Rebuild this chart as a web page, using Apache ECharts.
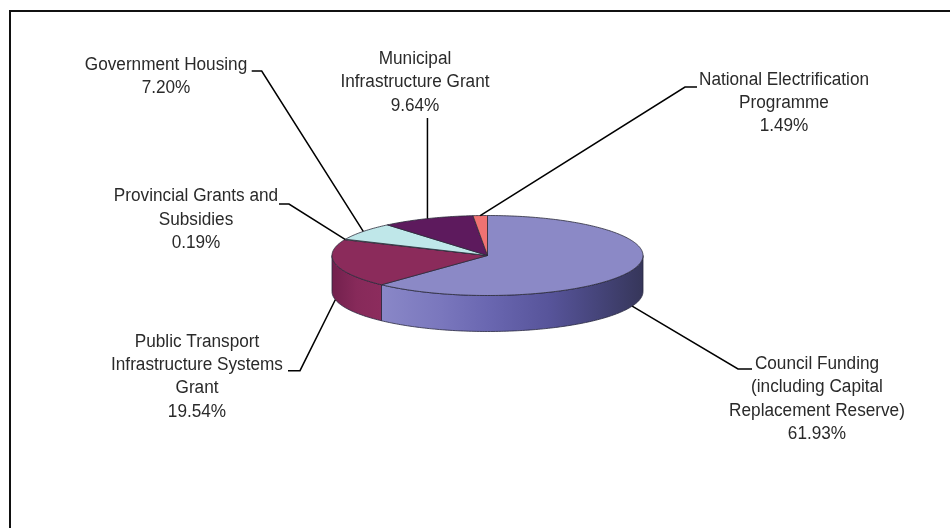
<!DOCTYPE html>
<html><head><meta charset="utf-8">
<script src="https://cdn.jsdelivr.net/npm/echarts@6/dist/echarts.min.js"></script>
<style>html,body{margin:0;padding:0;background:#fff}#c{width:950px;height:528px}</style>
</head><body><div id="c"></div>
<script>
// ---- data ----
const categories = [
  'Council Funding\n(including Capital\nReplacement Reserve)',
  'Public Transport\nInfrastructure Systems\nGrant',
  'Provincial Grants and\nSubsidies',
  'Government Housing',
  'Municipal\nInfrastructure Grant',
  'National Electrification\nProgramme'
];
const values = [61.93, 19.54, 0.19, 7.20, 9.64, 1.49];

// ---- styles / layout ----
const topColors = ['#8b89c6', '#8b2b5b', '#ffffcc', '#bfe7e9', '#5d1a5d', '#f07272'];
const sideStops = [
  [[0,'#8e8ccc'],[0.15,'#8a88c8'],[0.35,'#7a77bd'],[0.5,'#6a67b1'],[0.7,'#57549a'],[0.85,'#46457b'],[1,'#36365a']],
  [[0,'#72204d'],[0.08,'#872a5a'],[0.16,'#8c2c5d'],[1,'#6a1f46']],
  [[0,'#cccca3'],[1,'#e6e6b8']],
  [[0,'#99b9ba'],[1,'#abcfd1']],
  [[0,'#4a154a'],[1,'#531753']],
  [[0,'#c05b5b'],[1,'#d86666']]
];
const PIE = {cx: 487.5, cy: 255.5, rx: 155.5, ry: 40, depth: 36};
const FONT = '17.2px "Liberation Sans", Arial, sans-serif';
const SY = 1.07;
const LH = 23.3 / SY;
const labelLayout = [
  {x: 817, top: 352.4, lead: [[752, 369], [738, 369]]},
  {x: 197, top: 330, lead: [[288, 370.7], [300, 370.7]]},
  {x: 196, top: 184.5, lead: [[279, 204], [289, 204]]},
  {x: 166, top: 53.3, lead: [[251.7, 71], [261.7, 71]]},
  {x: 415, top: 47.3, lead: [[null, 118]]},
  {x: 784, top: 68, lead: [[697, 87], [685, 87]]}
];

const total = values.reduce((a, b) => a + b, 0);
const starts = [];
let acc = 0;
values.forEach(v => { starts.push(acc / total * 360); acc += v; });

function pt(deg, dy) {
  const r = deg * Math.PI / 180;
  return [PIE.cx + PIE.rx * Math.sin(r), PIE.cy - PIE.ry * Math.cos(r) + (dy || 0)];
}

function renderItem(params, api) {
  const i = params.dataIndex;
  const v = api.value(0);
  const a = starts[i];
  const b = a + v / total * 360;
  const children = [];
  const s = Math.max(a, 90), e = Math.min(b, 270);
  if (s < e) {
    const pts = [];
    for (let t = s; t <= e; t += 1) pts.push(pt(t));
    pts.push(pt(e));
    for (let t = e; t >= s; t -= 1) pts.push(pt(t, PIE.depth));
    pts.push(pt(s, PIE.depth));
    children.push({
      type: 'polygon', z2: 1,
      shape: {points: pts},
      style: {
        fill: new echarts.graphic.LinearGradient(PIE.cx - PIE.rx, 0, PIE.cx + PIE.rx, 0,
          sideStops[i].map(c => ({offset: c[0], color: c[1]})), true),
        stroke: '#2a2a40', lineWidth: 0.8
      }
    });
  }
  const tp = [[PIE.cx, PIE.cy]];
  const step = Math.max(0.1, Math.min(1, (b - a) / 4));
  for (let t = a; t < b; t += step) tp.push(pt(t));
  tp.push(pt(b));
  children.push({
    type: 'polygon', z2: 2,
    shape: {points: tp},
    style: {fill: topColors[i], stroke: '#2b2b3a', lineWidth: 0.8}
  });
  const mid = (a + b) / 2;
  const front = Math.cos(mid * Math.PI / 180) < 0;
  const end = pt(mid, front ? PIE.depth : 0);
  const L = labelLayout[i];
  const lp = L.lead.map(p => [p[0] === null ? end[0] : p[0], p[1]]);
  lp.push(end);
  children.push({
    type: 'polyline', z2: 3,
    shape: {points: lp},
    style: {stroke: '#000', lineWidth: 1.5, fill: null}
  });
  children.push({
    type: 'text', z2: 4,
    x: L.x, y: L.top, scaleY: SY,
    style: {
      text: categories[i] + '\n' + v.toFixed(2) + '%',
      x: 0, y: 0,
      align: 'center', verticalAlign: 'top',
      textAlign: 'center', textVerticalAlign: 'top',
      font: FONT, lineHeight: LH, fill: '#2a2a2a'
    }
  });
  return {type: 'group', children};
}

const chart = echarts.init(document.getElementById('c'), null, {renderer: 'canvas'});
chart.setOption({
  backgroundColor: '#fff',
  animation: false,
  graphic: [{
    type: 'rect', z: -1,
    shape: {x: 10, y: 11, width: 960, height: 540},
    style: {fill: null, stroke: '#111', lineWidth: 2}
  }],
  series: [{
    type: 'custom',
    coordinateSystem: 'none',
    renderItem: renderItem,
    data: values.map((v, i) => ({name: categories[i], value: [v]}))
  }]
});
</script></body></html>
